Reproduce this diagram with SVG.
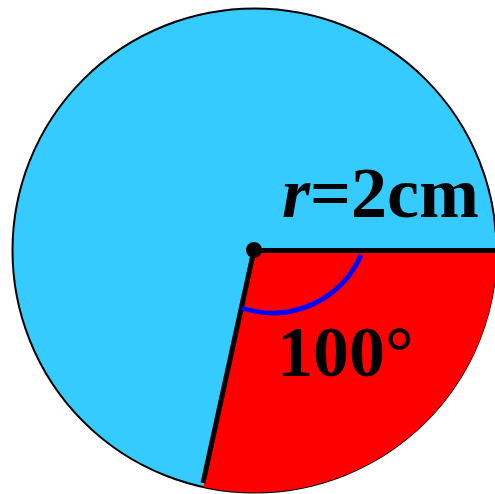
<svg xmlns="http://www.w3.org/2000/svg" width="495" height="494" viewBox="0 0 495 494">
<style>
.lbl{font-family:"Liberation Serif","Times New Roman",serif;font-weight:bold;font-size:72px;fill:#000}
.edge{stroke:#000;stroke-width:5;fill:none}
</style>
<rect width="495" height="494" fill="#fff"/>
<g id="circle">
<circle cx="254.5" cy="250.5" r="242" fill="#36cbff" stroke="#000" stroke-width="2"/>
</g>
<g id="sector">
<path d="M254,250 L497,250 A242,242 0 0 1 203.5,487 Z" fill="#ff0000"/>
</g>
<g id="connectors">
<line class="edge" x1="254" y1="250.5" x2="497" y2="250.5"/>
<line class="edge" x1="254" y1="250" x2="203" y2="483"/>
<path d="M361,255 A96.5,96.5 0 0 1 242,308" stroke="#0000ff" stroke-width="5" fill="none"/>
</g>
<g id="center">
<circle cx="254" cy="250" r="8" fill="#000"/>
</g>
<g id="radius-label">
<text class="lbl" x="282" y="217" font-size="73"><tspan font-style="italic">r</tspan>=2cm</text>
</g>
<g id="angle-label">
<text class="lbl" x="277" y="376" font-size="73">100°</text>
</g>
</svg>
